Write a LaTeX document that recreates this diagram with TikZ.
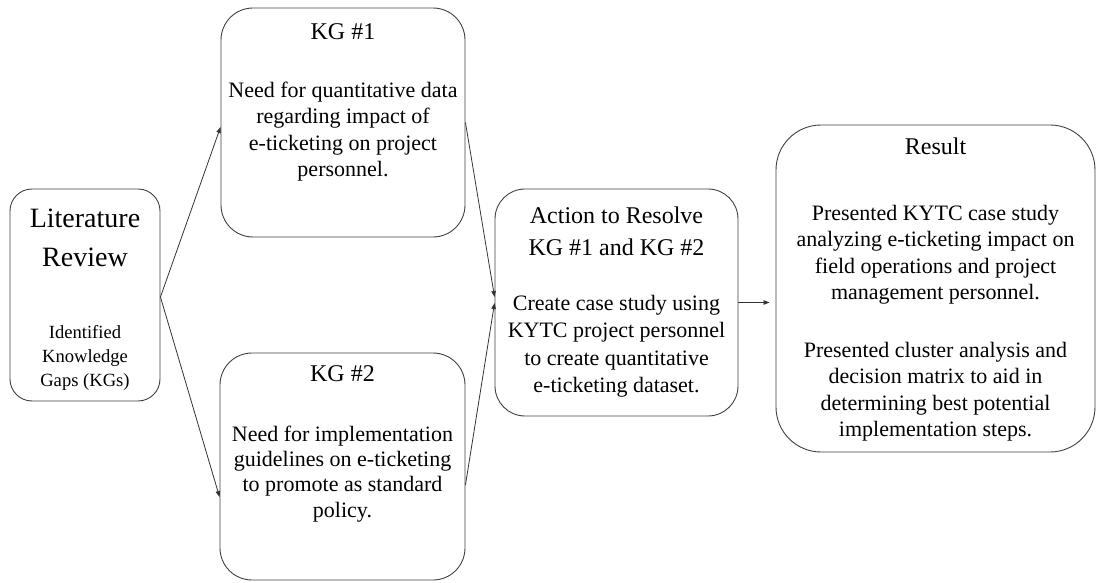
\documentclass[tikz,border=0pt]{standalone}
\usepackage{fontspec}
\setmainfont{Liberation Serif}
\usetikzlibrary{arrows.meta}
\tikzset{
  box/.style={draw=black!75, line width=0.9pt, inner sep=0pt},
  txt/.style={inner sep=0pt, align=center, anchor=base, text=black},
  conn/.style={draw=black!80, line width=0.8pt, -{Triangle[length=6pt,width=4.5pt]}},
}
\newcommand{\fsz}[2]{\fontsize{#1}{#2}\selectfont}
\begin{document}
\begin{tikzpicture}[x=1pt,y=-1pt]
\useasboundingbox (0,0) rectangle (1098,583);
% boxes
\node[box, minimum width=150pt, minimum height=212pt, rounded corners=22pt] (lit) at (85,295) {};
\node[box, minimum width=244pt, minimum height=229pt, rounded corners=32pt] (kg1) at (343,122.5) {};
\node[box, minimum width=245pt, minimum height=227pt, rounded corners=32pt] (kg2) at (342.5,466.5) {};
\node[box, minimum width=243pt, minimum height=227pt, rounded corners=30pt] (act) at (616.5,302.5) {};
\node[box, minimum width=319pt, minimum height=327pt, rounded corners=45pt] (res) at (935.5,288.5) {};
% texts (base anchor = last line baseline)
\node[txt, font=\fsz{28}{39}] (litT) at (85,266) {Literature\\Review};
\node[txt, font=\fsz{18.6}{24}] (litB) at (85,386) {Identified\\Knowledge\\Gaps (KGs)};
\node[txt, font=\fsz{24}{30}] (kg1T) at (343,40) {KG \#1};
\node[txt, font=\fsz{22}{26.5}] (kg1B) at (343,176.5) {Need for quantitative data\\regarding impact of\\e-ticketing on project\\personnel.};
\node[txt, font=\fsz{24}{30}] (kg2T) at (342.5,381) {KG \#2};
\node[txt, font=\fsz{22}{25.3}] (kg2B) at (342.5,517) {Need for implementation\\guidelines on e-ticketing\\to promote as standard\\policy.};
\node[txt, font=\fsz{24}{32}] (actT) at (616.5,255) {Action to Resolve\\KG \#1 and KG \#2};
\node[txt, font=\fsz{22}{27.5}] (actB) at (616.5,392.5) {Create case study using\\KYTC project personnel\\to create quantitative\\e-ticketing dataset.};
\node[txt, font=\fsz{24}{30}] (resT) at (935.5,155) {Result};
\node[txt, font=\fsz{22}{26.5}] (resB1) at (935.5,299.5) {Presented KYTC case study\\analyzing e-ticketing impact on\\field operations and project\\management personnel.};
\node[txt, font=\fsz{22}{26.5}] (resB2) at (935.5,436.5) {Presented cluster analysis and\\decision matrix to aid in\\determining best potential\\implementation steps.};
% connectors
\draw[conn] ([yshift=-2pt]lit.east) -- ([yshift=-4.5pt]kg1.west);
\draw[conn] ([yshift=-2pt]lit.east) -- ([yshift=-30.5pt]kg2.west);
\draw[conn] (kg1.east) -- ([yshift=5.5pt]act.west);
\draw[conn] ([yshift=-18.5pt]kg2.east) -- ([yshift=-0.5pt]act.west);
\draw[conn, shorten >=6pt] (act.east) -- (act.east -| res.west);
\end{tikzpicture}
\end{document}
